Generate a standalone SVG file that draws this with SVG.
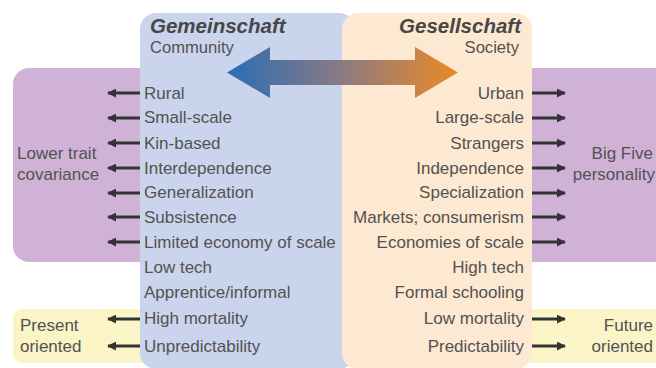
<svg xmlns="http://www.w3.org/2000/svg" width="656" height="368" viewBox="0 0 656 368">
<defs>
<linearGradient id="g" x1="227" y1="0" x2="458" y2="0" gradientUnits="userSpaceOnUse">
<stop offset="0" stop-color="#2a6db5"/>
<stop offset="0.5" stop-color="#8c7a82"/>
<stop offset="1" stop-color="#ec8a24"/>
</linearGradient>
<marker id="ah" viewBox="0 0 10 10" refX="9" refY="5" markerWidth="3" markerHeight="3" orient="auto" markerUnits="strokeWidth">
<path d="M0,0 L10,5 L0,10 z" fill="#333"/>
</marker>
<style>
text{font-family:"Liberation Sans",Arial,sans-serif;fill:#525252;font-size:17px}
.t{font-weight:bold;font-style:italic;font-size:20.5px;fill:#474747}
.s{font-size:16.6px}
.r{text-anchor:end}
.a{stroke:#333;stroke-width:3;fill:none;marker-end:url(#ah)}
</style>
</defs>
<rect width="656" height="368" fill="#fff"/>
<g id="lower-trait">
<rect x="13" y="68" width="150" height="194" rx="16" fill="#cfb2d6"/>
<text x="17" y="159">Lower trait</text>
<text x="17" y="180">covariance</text>
</g>
<g id="big-five">
<rect x="510" y="68" width="160" height="194" rx="16" fill="#cfb2d6"/>
<text class="r" x="653" y="159">Big Five</text>
<text class="r" x="655" y="180">personality</text>
</g>
<g id="present">
<rect x="13" y="309" width="150" height="54" rx="9" fill="#faf4c6"/>
<text x="20" y="331">Present</text>
<text x="20" y="352">oriented</text>
</g>
<g id="future">
<rect x="510" y="309" width="160" height="54" rx="9" fill="#faf4c6"/>
<text class="r" x="653" y="331">Future</text>
<text class="r" x="653" y="352">oriented</text>
</g>
<g id="gemeinschaft">
<rect x="140" y="13" width="215" height="356" rx="16" fill="#cad4ec"/>
<text class="t" x="150" y="33">Gemeinschaft</text>
<text class="s" x="150" y="53">Community</text>
<text x="144" y="99">Rural</text>
<text x="144" y="123">Small-scale</text>
<text x="144" y="149">Kin-based</text>
<text x="144" y="174">Interdependence</text>
<text x="144" y="198">Generalization</text>
<text x="144" y="223">Subsistence</text>
<text x="144" y="248">Limited economy of scale</text>
<text x="144" y="273">Low tech</text>
<text x="144" y="298">Apprentice/informal</text>
<text x="144" y="324">High mortality</text>
<text x="144" y="352">Unpredictability</text>
</g>
<g id="gesellschaft">
<rect x="342" y="13" width="190" height="356" rx="16" fill="#fde9d1"/>
<text class="t r" x="521" y="33">Gesellschaft</text>
<text class="s r" x="519" y="53">Society</text>
<text class="r" x="524" y="99">Urban</text>
<text class="r" x="524" y="123">Large-scale</text>
<text class="r" x="524" y="149">Strangers</text>
<text class="r" x="524" y="174">Independence</text>
<text class="r" x="524" y="198">Specialization</text>
<text class="r" x="524" y="223">Markets; consumerism</text>
<text class="r" x="524" y="248">Economies of scale</text>
<text class="r" x="524" y="273">High tech</text>
<text class="r" x="524" y="298">Formal schooling</text>
<text class="r" x="524" y="324">Low mortality</text>
<text class="r" x="524" y="352">Predictability</text>
</g>
<g id="connectors">
<path d="M227,72.5 L270,47 L270,60 L415,60 L415,47 L458,72.5 L415,98 L415,85 L270,85 L270,98 Z" fill="url(#g)"/>
<line class="a" x1="140" y1="93" x2="108" y2="93"/>
<line class="a" x1="140" y1="118" x2="108" y2="118"/>
<line class="a" x1="140" y1="143" x2="108" y2="143"/>
<line class="a" x1="140" y1="168" x2="108" y2="168"/>
<line class="a" x1="140" y1="193" x2="108" y2="193"/>
<line class="a" x1="140" y1="217" x2="108" y2="217"/>
<line class="a" x1="140" y1="242" x2="108" y2="242"/>
<line class="a" x1="140" y1="319" x2="108" y2="319"/>
<line class="a" x1="140" y1="346" x2="108" y2="346"/>
<line class="a" x1="532" y1="93" x2="565" y2="93"/>
<line class="a" x1="532" y1="118" x2="565" y2="118"/>
<line class="a" x1="532" y1="143" x2="565" y2="143"/>
<line class="a" x1="532" y1="168" x2="565" y2="168"/>
<line class="a" x1="532" y1="193" x2="565" y2="193"/>
<line class="a" x1="532" y1="217" x2="565" y2="217"/>
<line class="a" x1="532" y1="242" x2="565" y2="242"/>
<line class="a" x1="532" y1="319" x2="565" y2="319"/>
<line class="a" x1="532" y1="346" x2="565" y2="346"/>
</g>
</svg>
